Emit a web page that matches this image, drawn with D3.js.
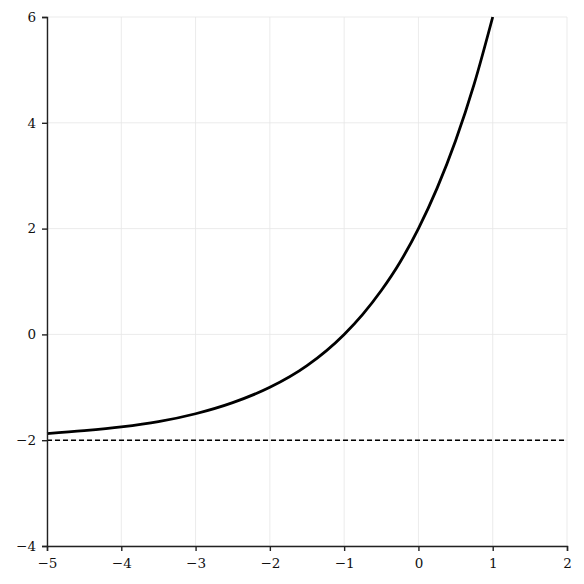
<!DOCTYPE html>
<html lang="en">
<head>
<meta charset="UTF-8">
<script src="https://cdn.jsdelivr.net/npm/d3@7"></script>
<style>
  body { margin: 0; background: #fff; }
  .tick text { font-family: "DejaVu Serif", serif; font-size: 13.5px; fill: #111; }
</style>
</head>
<body>
<div id="chart"></div>
<script>
// curve points
const xVals = [-5, -4.5, -4, -3.5, -3, -2.5, -2, -1.5, -1, -0.75, -0.5, -0.25, 0, 0.25, 0.5, 0.75, 1];
const yVals = [-1.875, -1.82, -1.75, -1.65, -1.5, -1.29, -1, -0.59, 0, 0.38, 0.83, 1.36, 2, 2.76, 3.66, 4.73, 6];
const asymptote = -2;
const xTicks = [-5, -4, -3, -2, -1, 0, 1, 2];
const yTicks = [-4, -2, 0, 2, 4, 6];

const width = 584, height = 584;
const svg = d3.select('#chart').append('svg')
  .attr('width', width).attr('height', height);

const x = d3.scaleLinear().domain([-5, 2]).range([47, 567]);
const y = d3.scaleLinear().domain([-4, 6]).range([546, 17]);

// grid
svg.append('g').selectAll('line').data(xTicks).join('line')
  .attr('x1', d => x(d)).attr('x2', d => x(d))
  .attr('y1', y(-4)).attr('y2', y(6))
  .attr('stroke', '#e6e6e6').attr('stroke-width', 0.8);
svg.append('g').selectAll('line').data(yTicks).join('line')
  .attr('x1', x(-5)).attr('x2', x(2))
  .attr('y1', d => y(d)).attr('y2', d => y(d))
  .attr('stroke', '#e6e6e6').attr('stroke-width', 0.8);

// asymptote
svg.append('line')
  .attr('x1', x(-5)).attr('x2', x(2))
  .attr('y1', y(asymptote)).attr('y2', y(asymptote))
  .attr('stroke', '#000').attr('stroke-width', 1.4)
  .attr('stroke-dasharray', '5,3');

// curve
const pts = xVals.map((v, i) => [v, yVals[i]]);
svg.append('path')
  .datum(pts)
  .attr('fill', 'none').attr('stroke', '#000').attr('stroke-width', 2.8)
  .attr('d', d3.line().x(d => x(d[0])).y(d => y(d[1])).curve(d3.curveMonotoneX));

// axes
const fmt = d => d < 0 ? '\u2212' + Math.abs(d) : String(d);
const xAxis = svg.append('g')
  .attr('transform', `translate(0,${y(-4)})`)
  .call(d3.axisBottom(x).tickValues(xTicks).tickFormat(fmt).tickSize(5).tickPadding(7));
const yAxis = svg.append('g')
  .attr('transform', `translate(${x(-5)},0)`)
  .call(d3.axisLeft(y).tickValues(yTicks).tickFormat(fmt).tickSize(5).tickPadding(6));
[xAxis, yAxis].forEach(g => {
  g.select('.domain').attr('stroke', '#222').attr('stroke-width', 1.4);
  g.selectAll('.tick line').attr('stroke', '#222').attr('stroke-width', 1.4);
});
</script>
</body>
</html>
